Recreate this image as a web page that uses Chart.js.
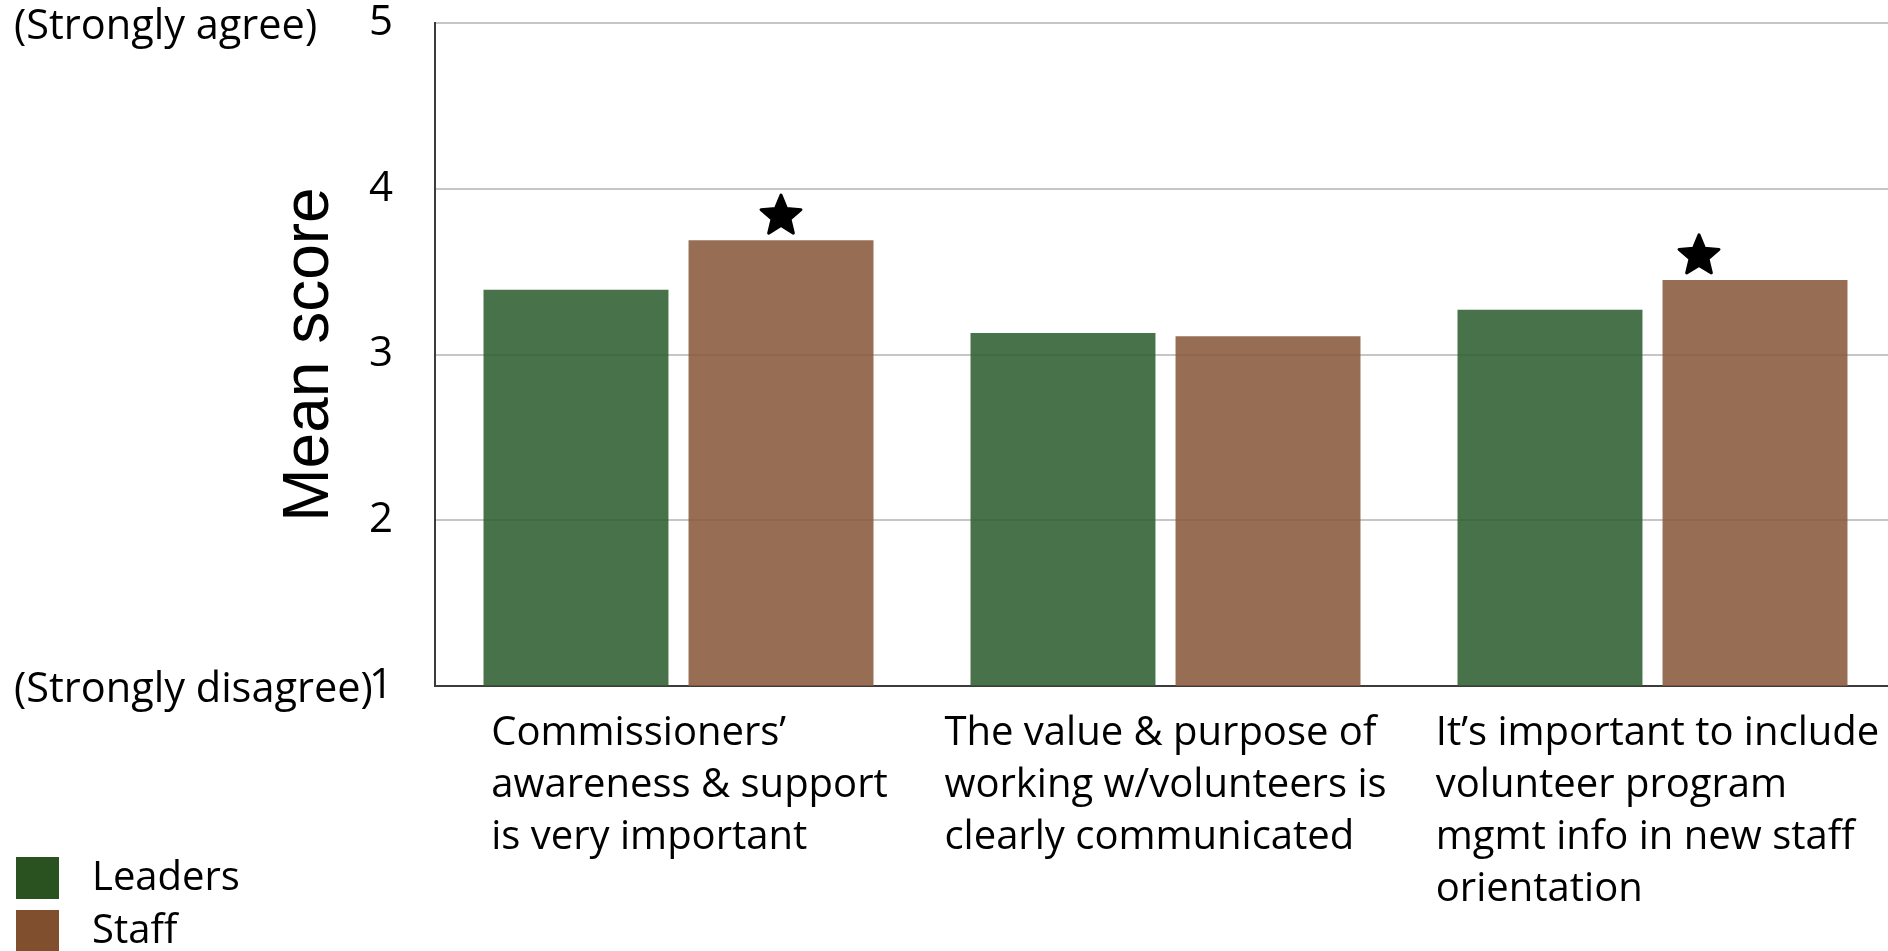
<!DOCTYPE html>
<html>
<head>
<meta charset="utf-8">
<script src="https://cdn.jsdelivr.net/npm/chart.js@4.4.0/dist/chart.umd.min.js"></script>
<style>
  html, body { margin: 0; padding: 0; background: #fff; overflow: hidden; }
  #wrap { position: relative; width: 1900px; height: 951px; }
</style>
</head>
<body>
<div id="wrap"><canvas id="chart"></canvas></div>
<script>
// survey statements, one array of wrapped lines per category
const categories = [
  ['Commissioners’', 'awareness & support', 'is very important'],
  ['The value & purpose of', 'working w/volunteers is', 'clearly communicated'],
  ['It’s important to include', 'volunteer program', 'mgmt info in new staff', 'orientation']
]
const seriesNames = ['Leaders', 'Staff']
const leaders = [3.39, 3.13, 3.27]
const staff = [3.69, 3.11, 3.45]
const staffSignificant = [true, false, true]
const yTicks = [1, 2, 3, 4, 5]
const scaleEnds = { 5: '(Strongly agree)', 1: '(Strongly disagree)' }

const FONT = "'Open Sans', sans-serif"
const LEADERS_BAR = 'rgba(46, 94, 49, 0.88)'
const STAFF_BAR = 'rgba(137, 90, 60, 0.88)'
const LEADERS_KEY = '#2a5220'
const STAFF_KEY = '#7f4f2e'

// multi-line category labels, left aligned inside a block centred on the category
const categoryLabels = {
  id: 'categoryLabels',
  afterDraw(chart, args, opts) {
    const { ctx, chartArea, scales: { x } } = chart
    ctx.save()
    ctx.font = `40px ${FONT}`
    ctx.fillStyle = '#000'
    ctx.textAlign = 'left'
    ctx.textBaseline = 'middle'
    categories.forEach((lines, i) => {
      const w = Math.max(...lines.map(l => ctx.measureText(l).width))
      const left = x.getPixelForValue(i) - w / 2 + opts.dx[i]
      lines.forEach((line, j) => {
        ctx.fillText(line, left, chartArea.bottom + 48 + j * 52)
      })
    })
    ctx.restore()
  }
}

// "(Strongly agree)" / "(Strongly disagree)" next to the end ticks
const scaleEndLabels = {
  id: 'scaleEndLabels',
  afterDraw(chart) {
    const { ctx, scales: { y } } = chart
    ctx.save()
    ctx.font = `41.5px ${FONT}`
    ctx.fillStyle = '#000'
    ctx.textAlign = 'left'
    ctx.textBaseline = 'middle'
    Object.keys(scaleEnds).forEach(v => {
      ctx.fillText(scaleEnds[v], 14, y.getPixelForValue(Number(v)) + 4)
    })
    ctx.restore()
  }
}

function drawStar(ctx, cx, cy, r) {
  ctx.beginPath()
  for (let k = 0; k < 10; k++) {
    const rad = k % 2 ? r * 0.45 : r
    const a = -Math.PI / 2 + k * Math.PI / 5
    ctx.lineTo(cx + rad * Math.cos(a), cy + rad * Math.sin(a))
  }
  ctx.closePath()
  ctx.fill()
  ctx.stroke()
}

// significance stars above the staff bars
const starMarks = {
  id: 'starMarks',
  afterDatasetsDraw(chart, args, opts) {
    const { ctx } = chart
    const bars = chart.getDatasetMeta(1).data
    ctx.save()
    ctx.fillStyle = '#000'
    ctx.strokeStyle = '#000'
    ctx.lineWidth = 3
    ctx.lineJoin = 'round'
    staffSignificant.forEach((sig, i) => {
      if (!sig) return
      const bar = bars[i]
      drawStar(ctx, bar.x + opts.dx[i], bar.y - 24, 21)
    })
    ctx.restore()
  }
}

// vertical key in the bottom-left corner
const keyBox = {
  id: 'keyBox',
  afterDraw(chart, args, opts) {
    const { ctx } = chart
    ctx.save()
    ctx.font = `40px ${FONT}`
    ctx.textAlign = 'left'
    ctx.textBaseline = 'middle'
    chart.data.datasets.forEach((ds, i) => {
      const top = 857 + i * 53
      ctx.fillStyle = opts.colors[i]
      ctx.fillRect(16, top, 43, 42)
      ctx.fillStyle = '#000'
      ctx.fillText(ds.label, 92, top + 22)
    })
    ctx.restore()
  }
}

new Chart(document.getElementById('chart'), {
  type: 'bar',
  data: {
    labels: categories.map(c => c.join(' ')),
    datasets: [
      { label: seriesNames[0], data: leaders, backgroundColor: LEADERS_BAR },
      { label: seriesNames[1], data: staff, backgroundColor: STAFF_BAR }
    ]
  },
  options: {
    responsive: true,
    maintainAspectRatio: false,
    animation: false,
    categoryPercentage: 0.842,
    barPercentage: 0.902,
    layout: { padding: { top: 23, right: 4, bottom: 265, left: 0 } },
    plugins: {
      legend: { display: false },
      tooltip: { enabled: false },
      categoryLabels: { dx: [11, 0, 5] },
      starMarks: { dx: [0, 0, -56] },
      keyBox: { colors: [LEADERS_KEY, STAFF_KEY] }
    },
    scales: {
      x: {
        grid: { display: false },
        border: { color: '#3c3c3c', width: 2 },
        ticks: { display: false },
        afterFit: scale => { scale.height = 0 }
      },
      y: {
        min: yTicks[0],
        max: yTicks[yTicks.length - 1],
        afterBuildTicks: scale => { scale.ticks = yTicks.map(v => ({ value: v })) },
        ticks: {
          color: '#000',
          padding: 42,
          font: { family: FONT, size: 42, lineHeight: 1 }
        },
        grid: { color: '#c6c6c6', lineWidth: 2, drawTicks: false },
        border: { color: '#3c3c3c', width: 2 },
        title: {
          display: true,
          text: 'Mean score',
          color: '#000',
          font: { family: "'Liberation Sans', Arial, sans-serif", size: 64 },
          padding: { top: 272, bottom: 0 }
        },
        afterFit: scale => {
          scale.width = 435
          scale.paddingTop = 0
          scale.paddingBottom = 0
        }
      }
    }
  },
  plugins: [categoryLabels, scaleEndLabels, starMarks, keyBox]
})
</script>
</body>
</html>
